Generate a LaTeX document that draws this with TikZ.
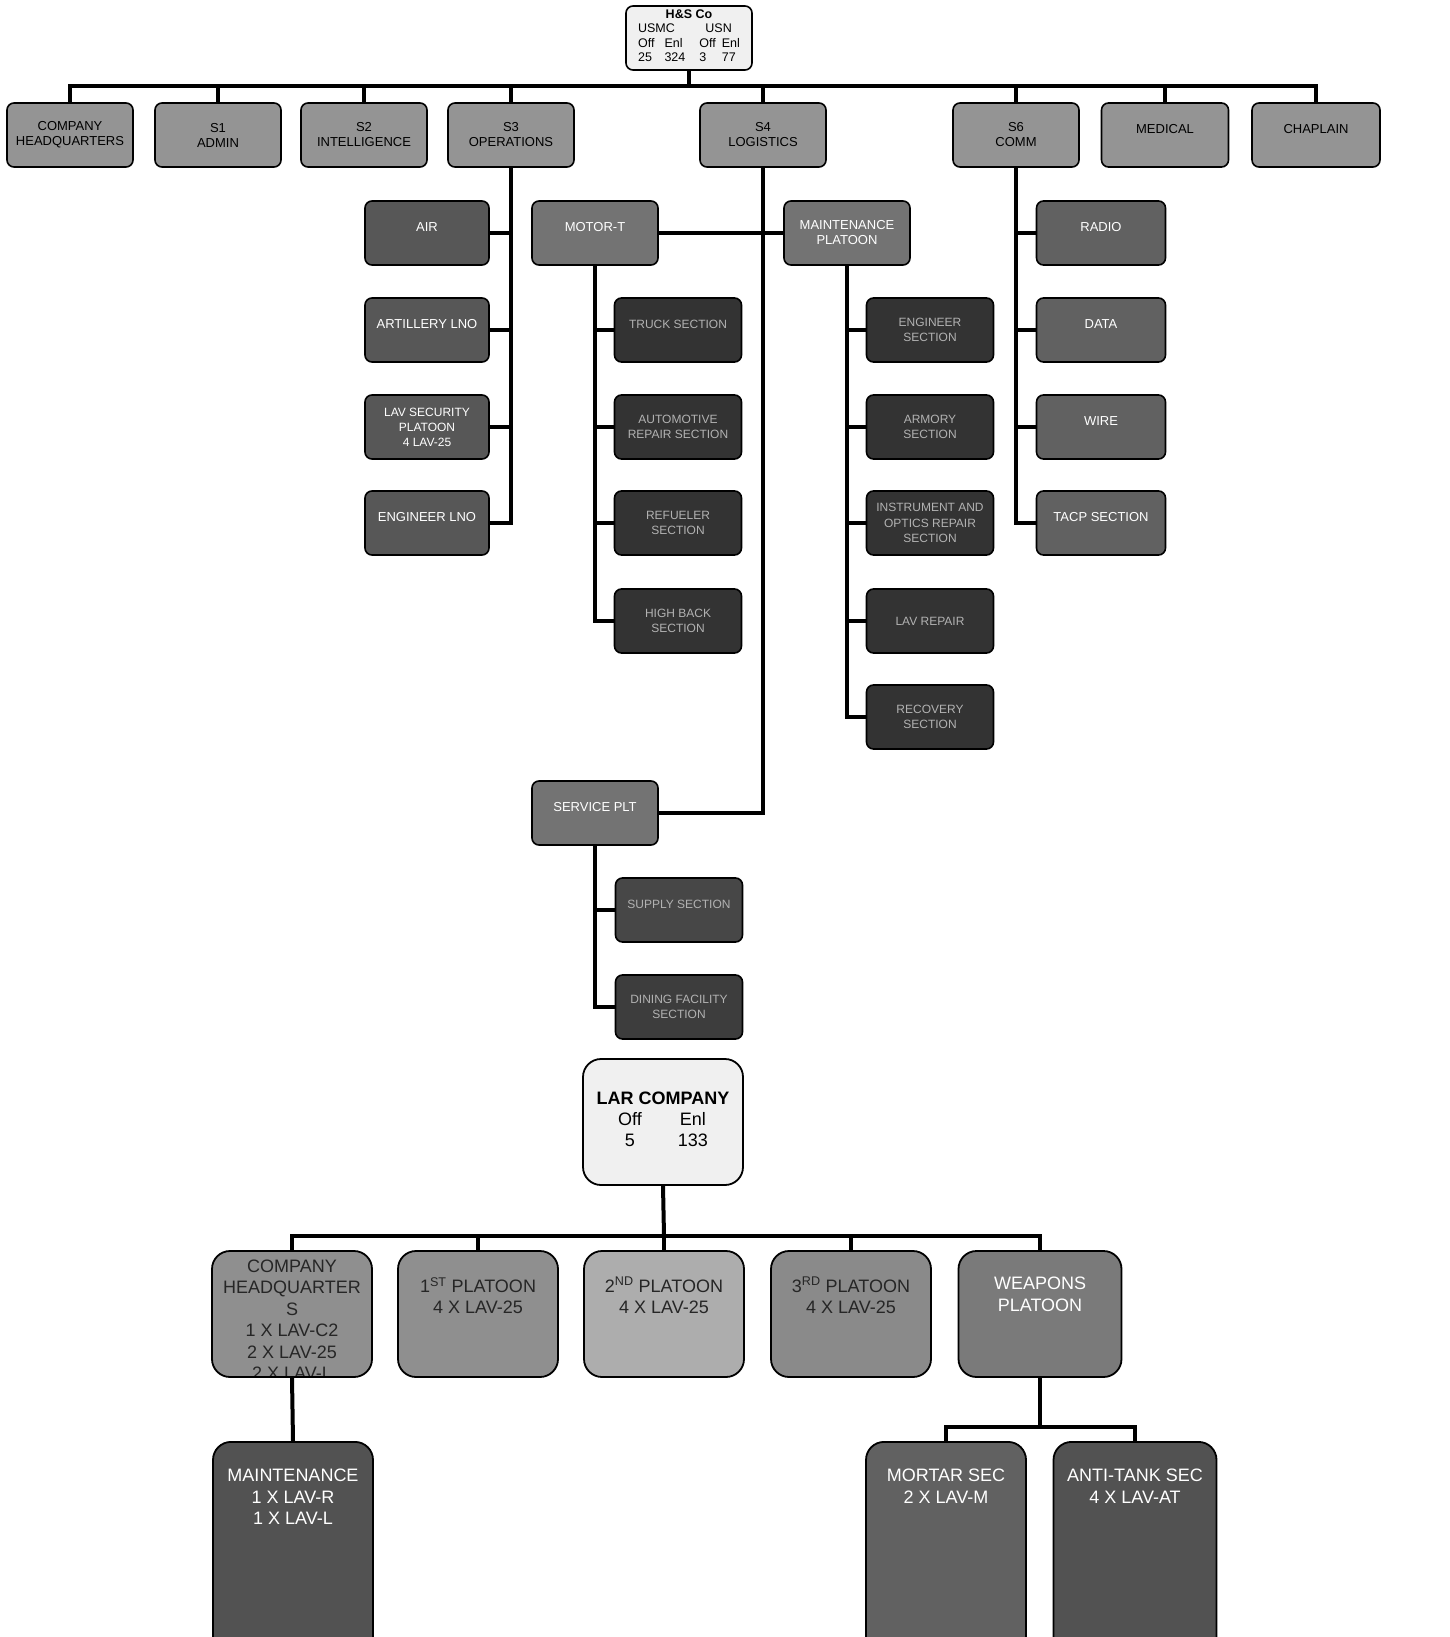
\documentclass[tikz,border=0pt]{standalone}
\usepackage{fontspec}
\setmainfont{Liberation Sans}

\begin{document}
\begin{tikzpicture}[x=1pt, y=-1pt,
	box/.style={draw=black, line width=1.6pt, rounded corners=7pt, minimum width=126pt, minimum height=64pt, align=center, inner sep=1pt, font=\fontsize{13}{15}\selectfont},
	upper/.style={text depth=12pt},
	staff/.style={box, fill=black!42},
	ops/.style={box, fill=black!66, minimum width=124pt, text=white},
	plt/.style={box, fill=black!55, text=white},
	sect/.style={box, fill=black!80, minimum width=127pt, text=black!30, font=\fontsize{12}{15.5}\selectfont},
	comm/.style={box, fill=black!62, minimum width=129pt, text=white},
	big/.style={draw=black, line width=1.8pt, rounded corners=18pt, minimum width=160pt, minimum height=126pt, align=center, inner sep=0pt, font=\fontsize{18}{21.5}\selectfont},
	top/.style={anchor=north, align=center, inner sep=0pt, font=\fontsize{18}{21.5}\selectfont},
	link/.style={line width=4pt}]

	\useasboundingbox (0,0) rectangle (1449,1637);
	\clip (0,0) rectangle (1449,1637);

	% H&S Company
	\node[box, fill=black!6, inner sep=0pt, font=\fontsize{12.5}{14.5}\selectfont] (hs) at (689,38) {%
		{\bfseries H\&S Co}\\
		\begin{tabular}[t]{@{}l@{\hspace{10pt}}l@{\hspace{14pt}}l@{\hspace{6pt}}l@{}}
			\multicolumn{2}{@{}l}{USMC} & \multicolumn{2}{l@{}}{USN}\\
			Off & Enl & Off & Enl\\
			25 & 324 & 3 & 77
		\end{tabular}};

	\node[staff] (chq) at (70,135) {COMPANY\\HEADQUARTERS};
	\node[staff] (sone) at (218,135) {S1\\ADMIN};
	\node[staff] (stwo) at (364,135) {S2\\INTELLIGENCE};
	\node[staff] (sthree) at (511,135) {S3\\OPERATIONS};
	\node[staff] (sfour) at (763,135) {S4\\LOGISTICS};
	\node[staff] (ssix) at (1016,135) {S6\\COMM};
	\node[staff, upper, minimum width=127pt] (med) at (1165,135) {MEDICAL};
	\node[staff, upper, minimum width=128pt] (chap) at (1316,135) {CHAPLAIN};

	\coordinate (bus) at (689,86);
	\draw[link] (hs.south) -- (bus);
	\draw[link] (chq.north) -- (chq.north |- bus) -- (chap.north |- bus) -- (chap.north);
	\foreach \n in {sone,stwo,sthree,sfour,ssix,med}
		\draw[link] (\n.north) -- (\n.north |- bus);

	% S3
	\node[ops, upper] (air) at (427,233) {AIR};
	\node[ops, upper] (arty) at (427,330) {ARTILLERY LNO};
	\node[ops, font=\fontsize{12}{15}\selectfont] (lavsec) at (427,427) {LAV SECURITY\\PLATOON\\4 LAV-25};
	\node[ops, upper] (eng) at (427,523) {ENGINEER LNO};
	\draw[link] (sthree.south) |- (eng.east);
	\foreach \n in {air,arty,lavsec}
		\draw[link] (\n.east) -- (\n.east -| sthree.south);

	% S4
	\node[plt, upper] (motort) at (595,233) {MOTOR-T};
	\node[plt] (maint) at (847,233) {MAINTENANCE\\PLATOON};
	\node[plt, upper] (service) at (595,813) {SERVICE PLT};
	\draw[link] (sfour.south) |- (service.east);
	\draw[link] (motort.east) -- (maint.west);

	\node[sect, upper] (truck) at (678,330) {TRUCK SECTION};
	\node[sect] (auto) at (678,427) {AUTOMOTIVE\\REPAIR SECTION};
	\node[sect] (refuel) at (678,523) {REFUELER\\SECTION};
	\node[sect] (hiback) at (678,621) {HIGH BACK\\SECTION};
	\draw[link] (motort.south) |- (hiback.west);
	\foreach \n in {truck,auto,refuel}
		\draw[link] (\n.west) -- (\n.west -| motort.south);

	\node[sect] (engsec) at (930,330) {ENGINEER\\SECTION};
	\node[sect] (armory) at (930,427) {ARMORY\\SECTION};
	\node[sect] (instr) at (930,523) {INSTRUMENT AND\\OPTICS REPAIR\\SECTION};
	\node[sect] (lavrep) at (930,621) {LAV REPAIR};
	\node[sect] (recov) at (930,717) {RECOVERY\\SECTION};
	\draw[link] (maint.south) |- (recov.west);
	\foreach \n in {engsec,armory,instr,lavrep}
		\draw[link] (\n.west) -- (\n.west -| maint.south);

	\node[sect, upper, fill=black!72] (supply) at (679,910) {SUPPLY SECTION};
	\node[sect, fill=black!76] (dining) at (679,1007) {DINING FACILITY\\SECTION};
	\draw[link] (service.south) |- (dining.west);
	\draw[link] (supply.west) -- (supply.west -| service.south);

	% S6
	\node[comm, upper] (radio) at (1101,233) {RADIO};
	\node[comm, upper] (data) at (1101,330) {DATA};
	\node[comm, upper] (wire) at (1101,427) {WIRE};
	\node[comm, upper] (tacp) at (1101,523) {TACP SECTION};
	\draw[link] (ssix.south) |- (tacp.west);
	\foreach \n in {radio,data,wire}
		\draw[link] (\n.west) -- (\n.west -| ssix.south);

	% LAR company
	\node[big, fill=black!6] (lar) at (663,1122) {%
		{\bfseries LAR COMPANY}\\
		\begin{tabular}[t]{@{}c@{\hspace{36pt}}c@{}}
			Off & Enl\\[-1pt]
			5 & 133
		\end{tabular}};

	\node[big, fill=black!44, path picture={\node[top, text=black!85] at ([yshift=-5pt]path picture bounding box.north) {COMPANY\\HEADQUARTER\\S\\1 X LAV-C2\\2 X LAV-25\\2 X LAV-L};}] (hq) at (292,1314) {};
	\node[big, fill=black!44, label={[top, text=black!85, yshift=-27pt]north:1\textsuperscript{ST} PLATOON\\4 X LAV-25}] (pltone) at (478,1314) {};
	\node[big, fill=black!32, label={[top, text=black!85, yshift=-27pt]north:2\textsuperscript{ND} PLATOON\\4 X LAV-25}] (plttwo) at (664,1314) {};
	\node[big, fill=black!46, label={[top, text=black!85, yshift=-27pt]north:3\textsuperscript{RD} PLATOON\\4 X LAV-25}] (pltthree) at (851,1314) {};
	\node[big, fill=black!52, minimum width=163pt, label={[top, text=white, yshift=-27pt]north:WEAPONS\\PLATOON}] (weapons) at (1040,1314) {};

	\coordinate (lbus) at (664,1236);
	\draw[link] (lar.south) -- (lbus);
	\draw[link] (hq.north) -- (hq.north |- lbus) -- (weapons.north |- lbus) -- (weapons.north);
	\foreach \n in {pltone,plttwo,pltthree}
		\draw[link] (\n.north) -- (\n.north |- lbus);

	\node[big, fill=black!68, anchor=north, minimum height=240pt, label={[top, text=white, yshift=-28pt]north:MAINTENANCE\\1 X LAV-R\\1 X LAV-L}] (lmaint) at (293,1441) {};
	\node[big, fill=black!62, anchor=north, minimum height=240pt, label={[top, text=white, yshift=-28pt]north:MORTAR SEC\\2 X LAV-M}] (mortar) at (946,1441) {};
	\node[big, fill=black!68, anchor=north, minimum width=163pt, minimum height=240pt, label={[top, text=white, yshift=-28pt]north:ANTI-TANK SEC\\4 X LAV-AT}] (antitank) at (1135,1441) {};

	\coordinate (wbus) at (1040,1427);
	\draw[link] (hq.south) -- (lmaint.north);
	\draw[link] (weapons.south) -- (wbus);
	\draw[link] (mortar.north) -- (mortar.north |- wbus) -- (antitank.north |- wbus) -- (antitank.north);
\end{tikzpicture}
\end{document}
